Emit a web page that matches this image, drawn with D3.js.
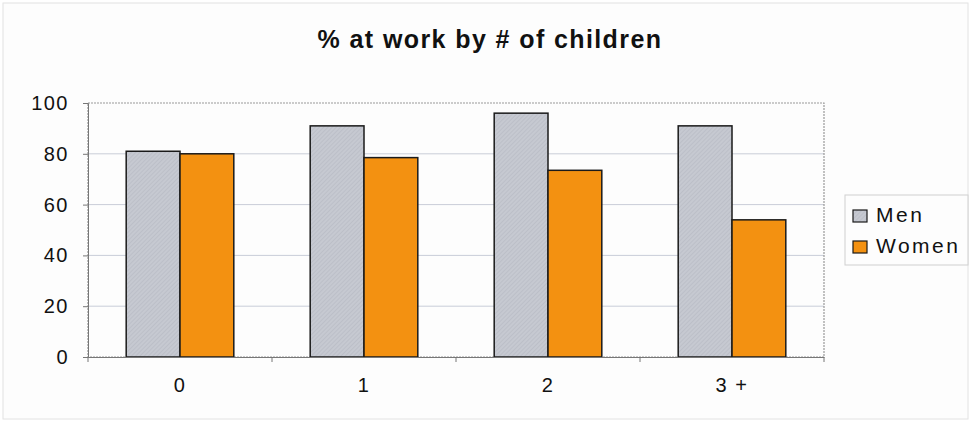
<!DOCTYPE html>
<html>
<head>
<meta charset="utf-8">
<script src="https://cdn.jsdelivr.net/npm/d3@7"></script>
<style>
  body { margin: 0; background: #fff; }
  svg { display: block; font-family: Arial, "Liberation Sans", sans-serif; }
</style>
</head>
<body>
<div id="chart"></div>
<script>
var categories = ['0', '1', '2', '3 +'];
var series = ['Men', 'Women'];
var men = [81, 91, 96, 91];
var women = [80, 78.5, 73.5, 54];
var yTicks = [0, 20, 40, 60, 80, 100];
var colors = { Men: '#c6c9d1', Women: '#f39111' };

var W = 971, H = 422;
var m = { left: 88, right: 147, top: 103, bottom: 65 };

var svg = d3.select('#chart').append('svg')
  .attr('width', W).attr('height', H);

svg.append('rect').attr('x', 3).attr('y', 3).attr('width', W - 6).attr('height', H - 6)
  .attr('fill', '#fdfdfd').attr('stroke', '#e2e2e2');

var x = d3.scaleBand().domain(categories).range([m.left, W - m.right]);
var xs = d3.scaleBand().domain(series).range([0, x.bandwidth()]).paddingInner(0).paddingOuter(0.71);
var y = d3.scaleLinear().domain([0, 100]).range([H - m.bottom, m.top]);

// gridlines
svg.append('g').selectAll('line').data(yTicks.slice(1, -1)).enter().append('line')
  .attr('x1', m.left).attr('x2', W - m.right)
  .attr('y1', function(d) { return y(d); }).attr('y2', function(d) { return y(d); })
  .attr('stroke', '#c9cdd8').attr('stroke-width', 1);

// plot border
svg.append('rect').attr('x', m.left).attr('y', m.top)
  .attr('width', W - m.right - m.left).attr('height', H - m.bottom - m.top)
  .attr('fill', 'none').attr('stroke', '#999').attr('stroke-width', 1.2)
  .attr('stroke-dasharray', '2,1');

var pat = svg.append('defs').append('pattern').attr('id', 'hatch')
  .attr('patternUnits', 'userSpaceOnUse').attr('width', 3).attr('height', 3)
  .attr('patternTransform', 'rotate(45)');
pat.append('rect').attr('width', 3).attr('height', 3).attr('fill', colors.Men);
pat.append('line').attr('x1', 0).attr('y1', 0).attr('x2', 0).attr('y2', 3)
  .attr('stroke', '#b3b6c0').attr('stroke-width', 1);

var rows = categories.map(function(c, i) { return { cat: c, Men: men[i], Women: women[i] }; });

var g = svg.append('g').selectAll('g').data(rows).enter().append('g')
  .attr('transform', function(d) { return 'translate(' + x(d.cat) + ',0)'; });
g.selectAll('rect').data(function(d) { return series.map(function(s) { return { s: s, v: d[s] }; }); })
  .enter().append('rect')
  .attr('x', function(d) { return xs(d.s); })
  .attr('width', xs.bandwidth())
  .attr('y', function(d) { return y(d.v); })
  .attr('height', function(d) { return y(0) - y(d.v); })
  .attr('fill', function(d) { return d.s === 'Men' ? 'url(#hatch)' : colors.Women; })
  .attr('stroke', '#1a1a1a').attr('stroke-width', 1.5);

// y axis
var ya = svg.append('g').attr('transform', 'translate(' + m.left + ',0)')
  .call(d3.axisLeft(y).tickValues(yTicks).tickSize(5).tickPadding(14));
ya.select('.domain').attr('stroke', '#777');
ya.selectAll('.tick line').attr('stroke', '#777');
ya.selectAll('text').attr('font-size', 20).attr('fill', '#111').attr('letter-spacing', 1.5)
  .attr('font-family', 'Arial, "Liberation Sans", sans-serif');

// x axis
var xa = svg.append('g').attr('transform', 'translate(0,' + (H - m.bottom) + ')')
  .call(d3.axisBottom(x).tickSize(0).tickPadding(21));
xa.select('.domain').attr('stroke', '#777');
xa.selectAll('text').attr('font-size', 20).attr('fill', '#111').attr('letter-spacing', 1.5)
  .attr('font-family', 'Arial, "Liberation Sans", sans-serif');
svg.append('g').selectAll('line').data(categories.concat(['end'])).enter().append('line')
  .attr('x1', function(d, i) { return m.left + i * x.bandwidth(); })
  .attr('x2', function(d, i) { return m.left + i * x.bandwidth(); })
  .attr('y1', H - m.bottom).attr('y2', H - m.bottom + 5)
  .attr('stroke', '#777');

// title
svg.append('text').attr('x', 490).attr('y', 48).attr('text-anchor', 'middle')
  .attr('font-size', 25).attr('font-weight', 'bold').attr('fill', '#111')
  .attr('letter-spacing', 1.4)
  .text('% at work by # of children');

// legend
var lg = svg.append('g').attr('transform', 'translate(845,195)');
lg.append('rect').attr('width', 123).attr('height', 70)
  .attr('fill', '#fdfdfd').attr('stroke', '#cfcfcf');
var li = lg.selectAll('g').data(series).enter().append('g')
  .attr('transform', function(d, i) { return 'translate(8,' + (15 + i * 31) + ')'; });
li.append('rect').attr('width', 14).attr('height', 12)
  .attr('fill', function(d) { return d === 'Men' ? 'url(#hatch)' : colors.Women; })
  .attr('stroke', '#1a1a1a').attr('stroke-width', 1.2);
li.append('text').attr('x', 23).attr('y', 12).attr('font-size', 21).attr('fill', '#111')
  .attr('letter-spacing', 2.5)
  .text(function(d) { return d; });
</script>
</body>
</html>
